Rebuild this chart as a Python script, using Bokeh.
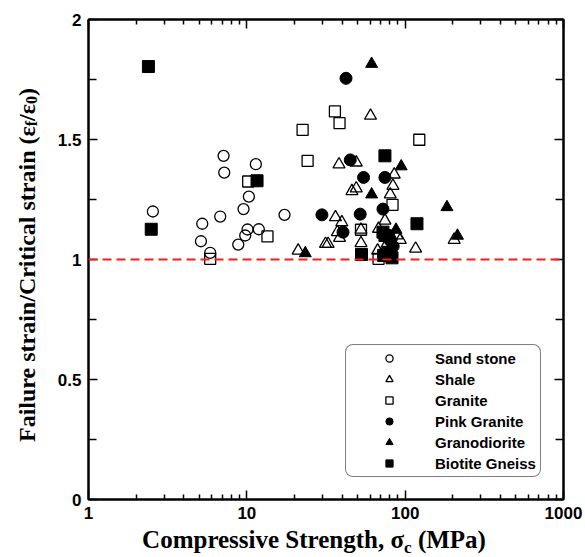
from bokeh.plotting import figure
from bokeh.models import (Range1d, LogAxis, LinearAxis, FixedTicker, Span, Legend,
                          LegendItem, BasicTickFormatter, Div)
from bokeh.layouts import column, row
from bokeh.embed import file_html
from bokeh.resources import INLINE

# ---------------- data ----------------
sand_x = [2.55, 5.23, 5.13, 5.87, 7.13, 7.2, 6.79, 8.83, 9.77, 10.1, 9.53, 10.3, 11.4, 11.9, 17.3]
sand_y = [1.20, 1.149, 1.076, 1.028, 1.432, 1.362, 1.179, 1.062, 1.10, 1.125, 1.21, 1.262, 1.397, 1.126, 1.186]

shale_x = [21.1, 31.4, 32.6, 60.4, 38.2, 49.1, 85.3, 83.7, 49.1, 46.1, 80.5, 36.3, 39.8, 37.3, 38.5,
           74.5, 52.6, 52.6, 67.9, 93.1, 89.0, 116.4, 204.0, 67.0, 76.0]
shale_y = [1.037, 1.065, 1.065, 1.599, 1.396, 1.404, 1.354, 1.307, 1.296, 1.285, 1.271, 1.176, 1.155, 1.114, 1.09,
           1.162, 1.124, 1.068, 1.128, 1.082, 1.10, 1.045, 1.082, 1.037, 1.06]

granite_x = [5.87, 10.2, 13.5, 22.5, 24.2, 36.0, 38.5, 122.8, 83.2, 52.6, 67.9]
granite_y = [1.003, 1.325, 1.096, 1.54, 1.411, 1.617, 1.568, 1.499, 1.228, 1.124, 1.003]

pink_x = [42.3, 45.0, 54.6, 74.5, 29.8, 52.0, 72.4, 40.5, 80.5, 84.0]
pink_y = [1.755, 1.415, 1.342, 1.342, 1.186, 1.189, 1.21, 1.114, 1.079, 1.055]

grano_x = [61.4, 94.4, 61.4, 183.6, 87.5, 214.0, 23.4, 82.0]
grano_y = [1.815, 1.388, 1.271, 1.218, 1.124, 1.099, 1.026, 1.095]

biotite_x = [2.39, 2.49, 11.6, 74.5, 118.7, 72.4, 74.5, 53.0, 73.1, 82.6, 78.6]
biotite_y = [1.804, 1.126, 1.328, 1.432, 1.149, 1.114, 1.10, 1.021, 1.017, 1.007, 1.03]

series_names = ["Sand stone", "Shale", "Granite", "Pink Granite", "Granodiorite", "Biotite Gneiss"]

x_major = [1, 10, 100, 1000]
x_minor = [m * d for d in (1, 10, 100) for m in range(2, 10)]
x_labels = ["1", "10", "100", "1000"]
y_major = [0, 0.5, 1, 1.5, 2]
y_minor = [0.25, 0.75, 1.25, 1.75]
y_labels = ["0", "0.5", "1", "1.5", "2"]
ref_ratio = 1.0

# ---------------- figure ----------------
p = figure(width=541, height=527, x_axis_type="log",
           x_range=Range1d(1, 1000), y_range=Range1d(0, 2),
           output_backend="svg", toolbar_location=None,
           min_border_left=44, min_border_right=22, min_border_top=19, min_border_bottom=28)
p.margin = 0
p.xgrid.visible = False
p.ygrid.visible = False
p.outline_line_color = "black"
p.outline_line_width = 2
p.background_fill_color = "white"
p.border_fill_color = "white"

tick_font = "Liberation Sans"

def style_axis(ax, show_labels, minor_len):
    ax.axis_line_color = "black"
    ax.axis_line_width = 2
    ax.major_tick_in = 9
    ax.major_tick_out = 0
    ax.minor_tick_in = minor_len
    ax.minor_tick_out = 0
    ax.major_tick_line_width = 1.5
    ax.minor_tick_line_width = 1.5
    ax.major_tick_line_color = "black"
    ax.minor_tick_line_color = "black"
    if show_labels:
        ax.major_label_text_font = tick_font
        ax.major_label_text_font_style = "bold"
        ax.major_label_text_font_size = "17px"
        ax.major_label_text_color = "black"
        ax.major_label_standoff = 7
    else:
        ax.major_label_text_font_size = "1px"
        ax.major_label_text_alpha = 0
        ax.major_label_standoff = 0

xb = p.xaxis[0]
xb.ticker = FixedTicker(ticks=x_major, minor_ticks=x_minor)
xb.formatter = BasicTickFormatter()
xb.major_label_overrides = {t: s for t, s in zip(x_major, x_labels)}
style_axis(xb, True, 5)

yl = p.yaxis[0]
yl.ticker = FixedTicker(ticks=y_major, minor_ticks=y_minor)
yl.major_label_overrides = {t: s for t, s in zip(y_major, y_labels)}
style_axis(yl, True, 8)

xt = LogAxis(ticker=FixedTicker(ticks=x_major, minor_ticks=x_minor))
xt.major_label_overrides = {t: "" for t in x_major}
style_axis(xt, False, 5)
p.add_layout(xt, "above")
yr = LinearAxis(ticker=FixedTicker(ticks=y_major, minor_ticks=y_minor))
yr.major_label_overrides = {t: "" for t in y_major}
style_axis(yr, False, 8)
p.add_layout(yr, "right")

# reference line
p.add_layout(Span(location=ref_ratio, dimension="width", line_color="#ff1a1a",
                  line_dash="9 5", line_width=2))

# ---------------- series ----------------
r_sand = p.scatter(sand_x, sand_y, marker="circle", size=11, fill_color=None,
                   line_color="black", line_width=1.3)
r_shale = p.scatter(shale_x, shale_y, marker="triangle", size=12, fill_color=None,
                    line_color="black", line_width=1.3)
r_gran = p.scatter(granite_x, granite_y, marker="square", size=11, fill_color=None,
                   line_color="black", line_width=1.3)
r_pink = p.scatter(pink_x, pink_y, marker="circle", size=12, fill_color="black",
                   line_color="black")
r_grano = p.scatter(grano_x, grano_y, marker="triangle", size=12, fill_color="black",
                    line_color="black")
r_bio = p.scatter(biotite_x, biotite_y, marker="square", size=12, fill_color="black",
                  line_color="black")

renderers = [r_sand, r_shale, r_gran, r_pink, r_grano, r_bio]
items = [LegendItem(label=n, renderers=[r]) for n, r in zip(series_names, renderers)]
legend = Legend(items=items, location=(257, 22), orientation="vertical",
                glyph_width=78, glyph_height=18, label_height=18, spacing=3,
                padding=4, label_standoff=7, margin=0,
                border_line_color="black", border_line_width=1.3,
                background_fill_color="white", background_fill_alpha=1.0,
                label_text_font=tick_font, label_text_font_style="bold",
                label_text_font_size="15px", label_text_color="black")
if "border_radius" in Legend.properties():
    legend.border_radius = 8
p.add_layout(legend)

# ---------------- axis titles (HTML, with real subscripts) ----------------
serif = "font-family:'Liberation Serif','Times New Roman',serif;font-weight:bold;color:black;"
sub_style = "font-size:16px;line-height:0;vertical-align:-5px;"

y_title_html = (
    '<div style="' + serif + 'font-size:24px;writing-mode:vertical-rl;'
    'transform:rotate(180deg);width:44px;height:520px;margin-top:5px;line-height:44px;'
    'text-align:center;white-space:nowrap;position:relative;left:5px;">'
    'Failure strain/Critical strain (ε<span style="' + sub_style + '">f</span>/ε'
    '<span style="' + sub_style + '">0</span>)</div>'
)
x_title_html = (
    '<div style="' + serif + 'font-size:25px;line-height:25px;width:542px;margin-left:43px;'
    'text-align:center;white-space:nowrap;">'
    'Compressive Strength, σ<span style="font-size:17px;line-height:0;vertical-align:-5px;">c</span> (MPa)</div>'
)

ydiv = Div(text=y_title_html, width=44, height=527, margin=0)
xdiv = Div(text=x_title_html, width=585, height=30, margin=0)

layout = column(row(ydiv, p, spacing=0, margin=0), xdiv, spacing=0, margin=0)

open("out.html", "w").write(file_html(layout, INLINE))
